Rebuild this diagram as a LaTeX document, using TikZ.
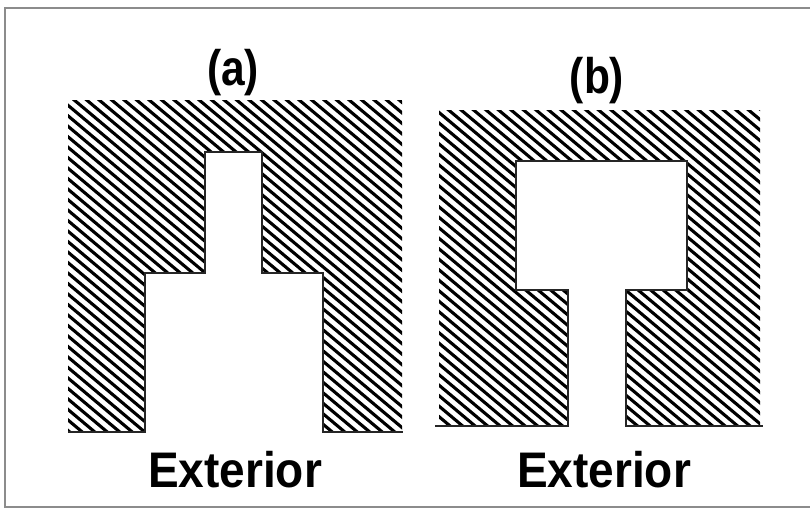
\documentclass[tikz,border=0pt]{standalone}
\usepackage{fontspec}
\setmainfont{Liberation Sans}
\usepackage{graphicx}
\begin{document}
\begin{tikzpicture}[x=1pt,y=-1pt,
  hatch/.style={line width=3.1pt,black},
  edgeline/.style={line width=1.5pt,black!85,line join=miter},
  frameline/.style={line width=2.4pt,black!45},
  lbl/.style={font=\fontsize{50}{50}\selectfont\bfseries,inner sep=0pt,anchor=base}]
\useasboundingbox (0,0) rectangle (810,511);
\begin{scope}
\clip (0,0) rectangle (810,511);
\draw[frameline] (815,8) -- (5,8) -- (5,507) -- (815,507);
\end{scope}
% hatched walls (a)
\begin{scope}
\clip (68,100) -- (402,100) -- (402,432) -- (323,432) -- (323,273) -- (262,273) -- (262,152) -- (205,152) -- (205,273) -- (145,273) -- (145,432) -- (68,432) -- cycle;
\foreach \c in {-470,-457.5,...,640} \draw[hatch] (\c,0) -- ++(715,600);
\end{scope}
% hatched walls (b)
\begin{scope}
\clip (439,110) -- (760,110) -- (760,426) -- (626,426) -- (626,290) -- (687,290) -- (687,161) -- (516,161) -- (516,290) -- (568,290) -- (568,426) -- (439,426) -- cycle;
\foreach \c in {-470,-457.5,...,640} \draw[hatch] (\c,0) -- ++(715,600);
\end{scope}
% boundary lines
\draw[edgeline] (68,432) -- (145,432) -- (145,273) -- (205,273) -- (205,152) -- (262,152) -- (262,273) -- (323,273) -- (323,432) -- (403,432);
\draw[edgeline] (435,426) -- (568,426) -- (568,290) -- (516,290) -- (516,161) -- (687,161) -- (687,290) -- (626,290) -- (626,426) -- (763,426);
% labels
\node[lbl] (la) at (233,85) {\scalebox{0.85}[1]{(a)}};
\node[lbl] (lb) at (597,93) {\scalebox{0.85}[1]{(b)}};
\node[lbl] (ea) at (235,487) {\scalebox{0.92}[1]{Exterior}};
\node[lbl] (eb) at (604,487) {\scalebox{0.92}[1]{Exterior}};
\end{tikzpicture}
\end{document}
